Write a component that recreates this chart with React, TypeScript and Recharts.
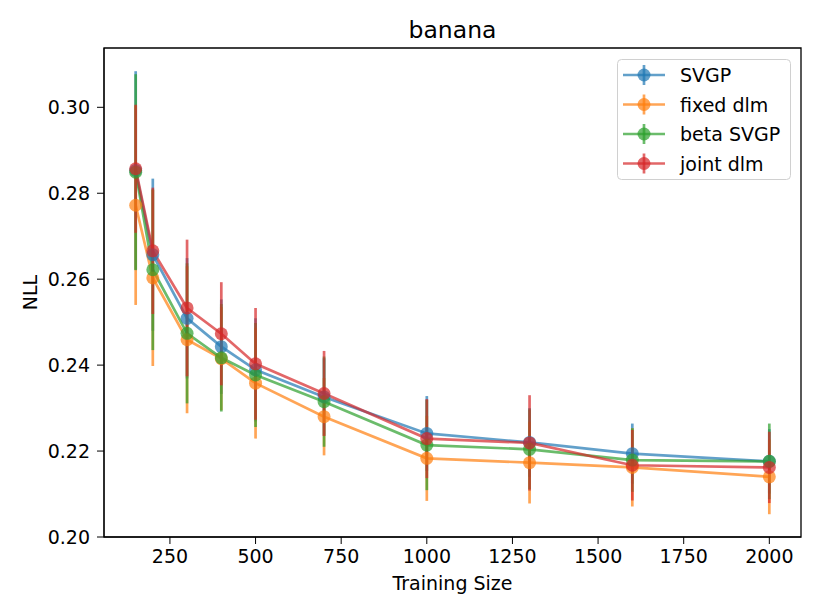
import React from "react"
import {
  LineChart,
  Line,
  XAxis,
  YAxis,
  ErrorBar,
  Legend,
  Label,
  ReferenceArea,
} from "recharts"

// training sizes on the x axis
const sizes = [150, 200, 300, 400, 500, 700, 1000, 1300, 1600, 2000]

// mean NLL and error per method
const svgp = [0.2853, 0.2657, 0.2509, 0.2443, 0.2389, 0.2326, 0.2241, 0.222, 0.2194, 0.2176]
const svgpErr = [0.0231, 0.0177, 0.014, 0.011, 0.012, 0.009, 0.0087, 0.008, 0.007, 0.0075]

const fixedDlm = [0.2772, 0.2603, 0.2459, 0.2415, 0.2358, 0.228, 0.2183, 0.2173, 0.2162, 0.214]
const fixedDlmErr = [0.0232, 0.0205, 0.0171, 0.012, 0.0129, 0.009, 0.0099, 0.0095, 0.0091, 0.0087]

const betaSvgp = [0.2849, 0.2622, 0.2474, 0.2417, 0.2377, 0.2315, 0.2214, 0.2204, 0.2179, 0.2176]
const betaSvgpErr = [0.0228, 0.0187, 0.0163, 0.0125, 0.0121, 0.0105, 0.0105, 0.0093, 0.0074, 0.0088]

const jointDlm = [0.2857, 0.2666, 0.2533, 0.2473, 0.2403, 0.2334, 0.2229, 0.2219, 0.2167, 0.2162]
const jointDlmErr = [0.0149, 0.0147, 0.0159, 0.012, 0.013, 0.0099, 0.0092, 0.0111, 0.0082, 0.0083]

const xTicks = [250, 500, 750, 1000, 1250, 1500, 1750, 2000]
const yTicks = [0.2, 0.22, 0.24, 0.26, 0.28, 0.3]

const series = [
  { key: "svgp", name: "SVGP", color: "#1f77b4" },
  { key: "fixed", name: "fixed dlm", color: "#ff7f0e" },
  { key: "beta", name: "beta SVGP", color: "#2ca02c" },
  { key: "joint", name: "joint dlm", color: "#d62728" },
]

const data = sizes.map((n, i) => ({
  n,
  svgp: svgp[i],
  svgpErr: svgpErr[i],
  fixed: fixedDlm[i],
  fixedErr: fixedDlmErr[i],
  beta: betaSvgp[i],
  betaErr: betaSvgpErr[i],
  joint: jointDlm[i],
  jointErr: jointDlmErr[i],
}))

const font = "DejaVu Sans"
const X_DOMAIN: [number, number] = [57.5, 2092.5]
const Y_DOMAIN: [number, number] = [0.2, 0.3138]

function LegendBox() {
  return (
    <svg width={175} height={122}>
      <rect x={0.5} y={0.5} width={173} height={120} rx={4} fill="#fff" fillOpacity={0.8} stroke="#d0d0d0" />
      {series.map((s, i) => {
        const y = 16 + i * 29.5
        return (
          <g key={s.key}>
            <line x1={6} x2={48} y1={y} y2={y} stroke={s.color} strokeOpacity={0.7} strokeWidth={2.7} />
            <line x1={27} x2={27} y1={y - 10} y2={y + 10} stroke={s.color} strokeOpacity={0.7} strokeWidth={2.7} />
            <circle cx={27} cy={y} r={6.5} fill={s.color} fillOpacity={0.7} />
            <text x={63} y={y + 7} fontFamily={font} fontSize={19} fill="#000">
              {s.name}
            </text>
          </g>
        )
      })}
    </svg>
  )
}

export default function App() {
  return (
    <div style={{ position: "absolute", left: 0, top: 0, width: 822, height: 616, background: "#fff" }}>
      <svg width={822} height={48} style={{ position: "absolute", left: 0, top: 0 }}>
        <text x={452.5} y={38} textAnchor="middle" fontFamily={font} fontSize={23.5} fill="#000">
          banana
        </text>
      </svg>
      <LineChart width={822} height={616} data={data} margin={{ top: 48, right: 21, left: 0, bottom: 0 }}>
        <XAxis
          dataKey="n"
          type="number"
          domain={X_DOMAIN}
          ticks={xTicks}
          allowDataOverflow
          height={79}
          tickSize={7}
          tickMargin={6}
          stroke="#000"
          tick={{ fill: "#000", fontFamily: font, fontSize: 19 }}
        >
          <Label value="Training Size" position="insideBottom" offset={26} fill="#000" fontFamily={font} fontSize={19} />
        </XAxis>
        <YAxis
          type="number"
          domain={Y_DOMAIN}
          ticks={yTicks}
          allowDataOverflow
          width={104}
          tickSize={7}
          tickMargin={7}
          stroke="#000"
          tickFormatter={(v: number) => v.toFixed(2)}
          tick={{ fill: "#000", fontFamily: font, fontSize: 19 }}
        >
          <Label
            value="NLL"
            angle={-90}
            position="insideLeft"
            offset={30}
            textAnchor="middle"
            fill="#000"
            fontFamily={font}
            fontSize={19}
          />
        </YAxis>
        <ReferenceArea
          x1={X_DOMAIN[0]}
          x2={X_DOMAIN[1]}
          y1={Y_DOMAIN[0]}
          y2={Y_DOMAIN[1]}
          fill="none"
          stroke="#000"
          strokeWidth={1.3}
        />
        {series.map((s) => (
          <Line
            key={s.key}
            dataKey={s.key}
            name={s.name}
            type="linear"
            stroke={s.color}
            strokeOpacity={0.7}
            strokeWidth={2.7}
            dot={{ r: 6.5, fill: s.color, fillOpacity: 0.7, stroke: "none" }}
            activeDot={false}
            isAnimationActive={false}
          >
            <ErrorBar
              dataKey={s.key + "Err"}
              direction="y"
              width={0}
              stroke={s.color}
              strokeOpacity={0.7}
              strokeWidth={2.7}
              isAnimationActive={false}
            />
          </Line>
        ))}
        <Legend
          layout="vertical"
          align="center"
          verticalAlign="middle"
          content={() => <LegendBox />}
          wrapperStyle={{ position: "absolute", top: 59, left: 617, width: 175, height: 122 }}
        />
      </LineChart>
    </div>
  )
}
